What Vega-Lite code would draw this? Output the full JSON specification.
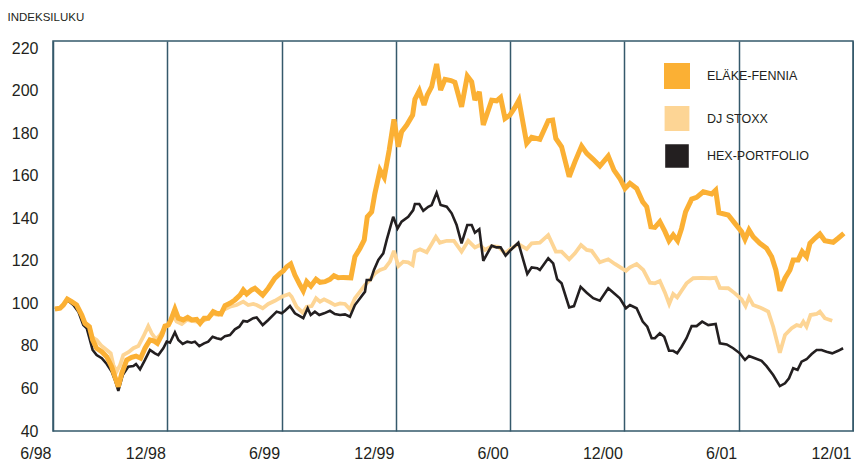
{
  "$schema": "https://vega.github.io/schema/vega-lite/v6.json",
  "width": 800,
  "height": 390,
  "autosize": {"type": "none"},
  "padding": {"left": 53, "top": 41, "right": 1, "bottom": 32},
  "background": "white",
  "config": {
    "font": "Liberation Sans",
    "view": {"stroke": "#35596b", "strokeWidth": 1.5}
  },
  "data": {
    "values": [
      {"sarja": "DJ Stoxx", "kuukausi": 0.10, "indeksi": 97.3},
      {"sarja": "DJ Stoxx", "kuukausi": 0.37, "indeksi": 97.7},
      {"sarja": "DJ Stoxx", "kuukausi": 0.54, "indeksi": 99.2},
      {"sarja": "DJ Stoxx", "kuukausi": 0.75, "indeksi": 102.0},
      {"sarja": "DJ Stoxx", "kuukausi": 0.98, "indeksi": 100.8},
      {"sarja": "DJ Stoxx", "kuukausi": 1.24, "indeksi": 99.2},
      {"sarja": "DJ Stoxx", "kuukausi": 1.51, "indeksi": 94.5},
      {"sarja": "DJ Stoxx", "kuukausi": 1.68, "indeksi": 90.6},
      {"sarja": "DJ Stoxx", "kuukausi": 1.91, "indeksi": 89.0},
      {"sarja": "DJ Stoxx", "kuukausi": 2.03, "indeksi": 84.3},
      {"sarja": "DJ Stoxx", "kuukausi": 2.29, "indeksi": 82.8},
      {"sarja": "DJ Stoxx", "kuukausi": 2.56, "indeksi": 79.9},
      {"sarja": "DJ Stoxx", "kuukausi": 2.82, "indeksi": 78.1},
      {"sarja": "DJ Stoxx", "kuukausi": 3.03, "indeksi": 76.5},
      {"sarja": "DJ Stoxx", "kuukausi": 3.17, "indeksi": 71.0},
      {"sarja": "DJ Stoxx", "kuukausi": 3.34, "indeksi": 67.9},
      {"sarja": "DJ Stoxx", "kuukausi": 3.52, "indeksi": 71.0},
      {"sarja": "DJ Stoxx", "kuukausi": 3.69, "indeksi": 75.7},
      {"sarja": "DJ Stoxx", "kuukausi": 3.96, "indeksi": 77.0},
      {"sarja": "DJ Stoxx", "kuukausi": 4.22, "indeksi": 78.9},
      {"sarja": "DJ Stoxx", "kuukausi": 4.48, "indeksi": 79.9},
      {"sarja": "DJ Stoxx", "kuukausi": 4.74, "indeksi": 84.3},
      {"sarja": "DJ Stoxx", "kuukausi": 5.00, "indeksi": 89.3},
      {"sarja": "DJ Stoxx", "kuukausi": 5.18, "indeksi": 85.9},
      {"sarja": "DJ Stoxx", "kuukausi": 5.41, "indeksi": 83.1},
      {"sarja": "DJ Stoxx", "kuukausi": 5.62, "indeksi": 85.1},
      {"sarja": "DJ Stoxx", "kuukausi": 5.88, "indeksi": 88.7},
      {"sarja": "DJ Stoxx", "kuukausi": 6.10, "indeksi": 89.8},
      {"sarja": "DJ Stoxx", "kuukausi": 6.28, "indeksi": 94.5},
      {"sarja": "DJ Stoxx", "kuukausi": 6.49, "indeksi": 91.4},
      {"sarja": "DJ Stoxx", "kuukausi": 6.76, "indeksi": 90.3},
      {"sarja": "DJ Stoxx", "kuukausi": 7.02, "indeksi": 92.2},
      {"sarja": "DJ Stoxx", "kuukausi": 7.28, "indeksi": 91.7},
      {"sarja": "DJ Stoxx", "kuukausi": 7.54, "indeksi": 91.4},
      {"sarja": "DJ Stoxx", "kuukausi": 7.81, "indeksi": 91.4},
      {"sarja": "DJ Stoxx", "kuukausi": 8.07, "indeksi": 92.6},
      {"sarja": "DJ Stoxx", "kuukausi": 8.41, "indeksi": 95.0},
      {"sarja": "DJ Stoxx", "kuukausi": 8.68, "indeksi": 94.5},
      {"sarja": "DJ Stoxx", "kuukausi": 8.94, "indeksi": 96.9},
      {"sarja": "DJ Stoxx", "kuukausi": 9.29, "indeksi": 98.4},
      {"sarja": "DJ Stoxx", "kuukausi": 9.64, "indeksi": 99.2},
      {"sarja": "DJ Stoxx", "kuukausi": 9.99, "indeksi": 100.8},
      {"sarja": "DJ Stoxx", "kuukausi": 10.25, "indeksi": 99.2},
      {"sarja": "DJ Stoxx", "kuukausi": 10.51, "indeksi": 99.7},
      {"sarja": "DJ Stoxx", "kuukausi": 10.69, "indeksi": 99.2},
      {"sarja": "DJ Stoxx", "kuukausi": 11.01, "indeksi": 97.7},
      {"sarja": "DJ Stoxx", "kuukausi": 11.30, "indeksi": 99.7},
      {"sarja": "DJ Stoxx", "kuukausi": 11.65, "indeksi": 101.2},
      {"sarja": "DJ Stoxx", "kuukausi": 12.01, "indeksi": 103.1},
      {"sarja": "DJ Stoxx", "kuukausi": 12.40, "indeksi": 104.4},
      {"sarja": "DJ Stoxx", "kuukausi": 12.53, "indeksi": 103.1},
      {"sarja": "DJ Stoxx", "kuukausi": 12.79, "indeksi": 98.4},
      {"sarja": "DJ Stoxx", "kuukausi": 13.11, "indeksi": 95.6},
      {"sarja": "DJ Stoxx", "kuukausi": 13.32, "indeksi": 98.4},
      {"sarja": "DJ Stoxx", "kuukausi": 13.58, "indeksi": 98.7},
      {"sarja": "DJ Stoxx", "kuukausi": 13.81, "indeksi": 102.4},
      {"sarja": "DJ Stoxx", "kuukausi": 14.02, "indeksi": 100.8},
      {"sarja": "DJ Stoxx", "kuukausi": 14.23, "indeksi": 101.9},
      {"sarja": "DJ Stoxx", "kuukausi": 14.54, "indeksi": 100.5},
      {"sarja": "DJ Stoxx", "kuukausi": 14.80, "indeksi": 99.2},
      {"sarja": "DJ Stoxx", "kuukausi": 15.07, "indeksi": 100.0},
      {"sarja": "DJ Stoxx", "kuukausi": 15.33, "indeksi": 99.7},
      {"sarja": "DJ Stoxx", "kuukausi": 15.59, "indeksi": 97.2},
      {"sarja": "DJ Stoxx", "kuukausi": 15.85, "indeksi": 102.4},
      {"sarja": "DJ Stoxx", "kuukausi": 16.12, "indeksi": 105.5},
      {"sarja": "DJ Stoxx", "kuukausi": 16.38, "indeksi": 108.6},
      {"sarja": "DJ Stoxx", "kuukausi": 16.64, "indeksi": 111.0},
      {"sarja": "DJ Stoxx", "kuukausi": 16.90, "indeksi": 114.1},
      {"sarja": "DJ Stoxx", "kuukausi": 17.17, "indeksi": 115.7},
      {"sarja": "DJ Stoxx", "kuukausi": 17.43, "indeksi": 116.5},
      {"sarja": "DJ Stoxx", "kuukausi": 17.69, "indeksi": 119.6},
      {"sarja": "DJ Stoxx", "kuukausi": 17.90, "indeksi": 124.7},
      {"sarja": "DJ Stoxx", "kuukausi": 18.13, "indeksi": 117.5},
      {"sarja": "DJ Stoxx", "kuukausi": 18.39, "indeksi": 119.6},
      {"sarja": "DJ Stoxx", "kuukausi": 18.65, "indeksi": 119.3},
      {"sarja": "DJ Stoxx", "kuukausi": 18.88, "indeksi": 118.0},
      {"sarja": "DJ Stoxx", "kuukausi": 19.00, "indeksi": 124.3},
      {"sarja": "DJ Stoxx", "kuukausi": 19.27, "indeksi": 125.4},
      {"sarja": "DJ Stoxx", "kuukausi": 19.62, "indeksi": 124.0},
      {"sarja": "DJ Stoxx", "kuukausi": 19.88, "indeksi": 127.9},
      {"sarja": "DJ Stoxx", "kuukausi": 20.10, "indeksi": 131.3},
      {"sarja": "DJ Stoxx", "kuukausi": 20.31, "indeksi": 128.5},
      {"sarja": "DJ Stoxx", "kuukausi": 20.67, "indeksi": 129.4},
      {"sarja": "DJ Stoxx", "kuukausi": 21.05, "indeksi": 129.4},
      {"sarja": "DJ Stoxx", "kuukausi": 21.45, "indeksi": 124.3},
      {"sarja": "DJ Stoxx", "kuukausi": 21.80, "indeksi": 129.4},
      {"sarja": "DJ Stoxx", "kuukausi": 22.15, "indeksi": 126.3},
      {"sarja": "DJ Stoxx", "kuukausi": 22.41, "indeksi": 127.4},
      {"sarja": "DJ Stoxx", "kuukausi": 22.68, "indeksi": 125.1},
      {"sarja": "DJ Stoxx", "kuukausi": 23.03, "indeksi": 126.9},
      {"sarja": "DJ Stoxx", "kuukausi": 23.38, "indeksi": 126.6},
      {"sarja": "DJ Stoxx", "kuukausi": 23.73, "indeksi": 123.5},
      {"sarja": "DJ Stoxx", "kuukausi": 24.08, "indeksi": 125.9},
      {"sarja": "DJ Stoxx", "kuukausi": 24.43, "indeksi": 127.9},
      {"sarja": "DJ Stoxx", "kuukausi": 24.87, "indeksi": 125.5},
      {"sarja": "DJ Stoxx", "kuukausi": 25.13, "indeksi": 128.2},
      {"sarja": "DJ Stoxx", "kuukausi": 25.56, "indeksi": 128.5},
      {"sarja": "DJ Stoxx", "kuukausi": 26.00, "indeksi": 132.1},
      {"sarja": "DJ Stoxx", "kuukausi": 26.40, "indeksi": 124.3},
      {"sarja": "DJ Stoxx", "kuukausi": 26.70, "indeksi": 124.3},
      {"sarja": "DJ Stoxx", "kuukausi": 27.10, "indeksi": 120.7},
      {"sarja": "DJ Stoxx", "kuukausi": 27.40, "indeksi": 123.5},
      {"sarja": "DJ Stoxx", "kuukausi": 27.72, "indeksi": 127.4},
      {"sarja": "DJ Stoxx", "kuukausi": 28.02, "indeksi": 125.1},
      {"sarja": "DJ Stoxx", "kuukausi": 28.28, "indeksi": 124.7},
      {"sarja": "DJ Stoxx", "kuukausi": 28.71, "indeksi": 119.3},
      {"sarja": "DJ Stoxx", "kuukausi": 29.15, "indeksi": 120.7},
      {"sarja": "DJ Stoxx", "kuukausi": 29.50, "indeksi": 118.5},
      {"sarja": "DJ Stoxx", "kuukausi": 30.08, "indeksi": 115.3},
      {"sarja": "DJ Stoxx", "kuukausi": 30.29, "indeksi": 116.9},
      {"sarja": "DJ Stoxx", "kuukausi": 30.64, "indeksi": 118.5},
      {"sarja": "DJ Stoxx", "kuukausi": 30.99, "indeksi": 115.7},
      {"sarja": "DJ Stoxx", "kuukausi": 31.34, "indeksi": 109.7},
      {"sarja": "DJ Stoxx", "kuukausi": 31.60, "indeksi": 109.4},
      {"sarja": "DJ Stoxx", "kuukausi": 31.86, "indeksi": 110.5},
      {"sarja": "DJ Stoxx", "kuukausi": 32.13, "indeksi": 105.0},
      {"sarja": "DJ Stoxx", "kuukausi": 32.35, "indeksi": 99.7},
      {"sarja": "DJ Stoxx", "kuukausi": 32.56, "indeksi": 104.4},
      {"sarja": "DJ Stoxx", "kuukausi": 32.77, "indeksi": 102.8},
      {"sarja": "DJ Stoxx", "kuukausi": 33.00, "indeksi": 105.9},
      {"sarja": "DJ Stoxx", "kuukausi": 33.26, "indeksi": 109.4},
      {"sarja": "DJ Stoxx", "kuukausi": 33.61, "indeksi": 111.8},
      {"sarja": "DJ Stoxx", "kuukausi": 34.05, "indeksi": 112.0},
      {"sarja": "DJ Stoxx", "kuukausi": 34.49, "indeksi": 111.8},
      {"sarja": "DJ Stoxx", "kuukausi": 34.79, "indeksi": 112.0},
      {"sarja": "DJ Stoxx", "kuukausi": 35.01, "indeksi": 107.3},
      {"sarja": "DJ Stoxx", "kuukausi": 35.45, "indeksi": 107.1},
      {"sarja": "DJ Stoxx", "kuukausi": 35.80, "indeksi": 104.7},
      {"sarja": "DJ Stoxx", "kuukausi": 36.15, "indeksi": 101.9},
      {"sarja": "DJ Stoxx", "kuukausi": 36.36, "indeksi": 98.7},
      {"sarja": "DJ Stoxx", "kuukausi": 36.54, "indeksi": 102.8},
      {"sarja": "DJ Stoxx", "kuukausi": 36.76, "indeksi": 99.2},
      {"sarja": "DJ Stoxx", "kuukausi": 37.11, "indeksi": 98.1},
      {"sarja": "DJ Stoxx", "kuukausi": 37.55, "indeksi": 96.1},
      {"sarja": "DJ Stoxx", "kuukausi": 37.81, "indeksi": 89.0},
      {"sarja": "DJ Stoxx", "kuukausi": 38.16, "indeksi": 76.8},
      {"sarja": "DJ Stoxx", "kuukausi": 38.43, "indeksi": 85.1},
      {"sarja": "DJ Stoxx", "kuukausi": 38.78, "indeksi": 88.3},
      {"sarja": "DJ Stoxx", "kuukausi": 39.04, "indeksi": 89.8},
      {"sarja": "DJ Stoxx", "kuukausi": 39.25, "indeksi": 89.3},
      {"sarja": "DJ Stoxx", "kuukausi": 39.39, "indeksi": 91.4},
      {"sarja": "DJ Stoxx", "kuukausi": 39.56, "indeksi": 89.0},
      {"sarja": "DJ Stoxx", "kuukausi": 39.77, "indeksi": 94.5},
      {"sarja": "DJ Stoxx", "kuukausi": 40.09, "indeksi": 95.0},
      {"sarja": "DJ Stoxx", "kuukausi": 40.26, "indeksi": 96.1},
      {"sarja": "DJ Stoxx", "kuukausi": 40.52, "indeksi": 93.0},
      {"sarja": "DJ Stoxx", "kuukausi": 40.91, "indeksi": 91.8},

      {"sarja": "HEX-Portfolio", "kuukausi": 0.10, "indeksi": 97.3},
      {"sarja": "HEX-Portfolio", "kuukausi": 0.37, "indeksi": 97.7},
      {"sarja": "HEX-Portfolio", "kuukausi": 0.54, "indeksi": 99.2},
      {"sarja": "HEX-Portfolio", "kuukausi": 0.75, "indeksi": 101.6},
      {"sarja": "HEX-Portfolio", "kuukausi": 1.07, "indeksi": 99.2},
      {"sarja": "HEX-Portfolio", "kuukausi": 1.33, "indeksi": 96.1},
      {"sarja": "HEX-Portfolio", "kuukausi": 1.59, "indeksi": 89.8},
      {"sarja": "HEX-Portfolio", "kuukausi": 1.77, "indeksi": 88.3},
      {"sarja": "HEX-Portfolio", "kuukausi": 2.08, "indeksi": 78.1},
      {"sarja": "HEX-Portfolio", "kuukausi": 2.29, "indeksi": 75.7},
      {"sarja": "HEX-Portfolio", "kuukausi": 2.56, "indeksi": 74.2},
      {"sarja": "HEX-Portfolio", "kuukausi": 2.82, "indeksi": 71.5},
      {"sarja": "HEX-Portfolio", "kuukausi": 3.08, "indeksi": 67.9},
      {"sarja": "HEX-Portfolio", "kuukausi": 3.25, "indeksi": 64.0},
      {"sarja": "HEX-Portfolio", "kuukausi": 3.43, "indeksi": 58.9},
      {"sarja": "HEX-Portfolio", "kuukausi": 3.66, "indeksi": 66.3},
      {"sarja": "HEX-Portfolio", "kuukausi": 3.95, "indeksi": 70.2},
      {"sarja": "HEX-Portfolio", "kuukausi": 4.22, "indeksi": 70.5},
      {"sarja": "HEX-Portfolio", "kuukausi": 4.36, "indeksi": 71.5},
      {"sarja": "HEX-Portfolio", "kuukausi": 4.57, "indeksi": 69.0},
      {"sarja": "HEX-Portfolio", "kuukausi": 4.83, "indeksi": 73.4},
      {"sarja": "HEX-Portfolio", "kuukausi": 5.09, "indeksi": 78.1},
      {"sarja": "HEX-Portfolio", "kuukausi": 5.35, "indeksi": 76.5},
      {"sarja": "HEX-Portfolio", "kuukausi": 5.53, "indeksi": 75.7},
      {"sarja": "HEX-Portfolio", "kuukausi": 5.79, "indeksi": 78.9},
      {"sarja": "HEX-Portfolio", "kuukausi": 5.97, "indeksi": 82.0},
      {"sarja": "HEX-Portfolio", "kuukausi": 6.14, "indeksi": 81.5},
      {"sarja": "HEX-Portfolio", "kuukausi": 6.40, "indeksi": 86.4},
      {"sarja": "HEX-Portfolio", "kuukausi": 6.58, "indeksi": 82.8},
      {"sarja": "HEX-Portfolio", "kuukausi": 6.81, "indeksi": 80.9},
      {"sarja": "HEX-Portfolio", "kuukausi": 7.05, "indeksi": 82.0},
      {"sarja": "HEX-Portfolio", "kuukausi": 7.28, "indeksi": 81.5},
      {"sarja": "HEX-Portfolio", "kuukausi": 7.45, "indeksi": 82.0},
      {"sarja": "HEX-Portfolio", "kuukausi": 7.68, "indeksi": 79.9},
      {"sarja": "HEX-Portfolio", "kuukausi": 7.93, "indeksi": 81.2},
      {"sarja": "HEX-Portfolio", "kuukausi": 8.15, "indeksi": 82.0},
      {"sarja": "HEX-Portfolio", "kuukausi": 8.38, "indeksi": 84.3},
      {"sarja": "HEX-Portfolio", "kuukausi": 8.59, "indeksi": 83.6},
      {"sarja": "HEX-Portfolio", "kuukausi": 8.82, "indeksi": 83.1},
      {"sarja": "HEX-Portfolio", "kuukausi": 9.03, "indeksi": 84.6},
      {"sarja": "HEX-Portfolio", "kuukausi": 9.29, "indeksi": 85.1},
      {"sarja": "HEX-Portfolio", "kuukausi": 9.55, "indeksi": 87.8},
      {"sarja": "HEX-Portfolio", "kuukausi": 9.78, "indeksi": 89.0},
      {"sarja": "HEX-Portfolio", "kuukausi": 9.99, "indeksi": 91.7},
      {"sarja": "HEX-Portfolio", "kuukausi": 10.20, "indeksi": 91.4},
      {"sarja": "HEX-Portfolio", "kuukausi": 10.51, "indeksi": 93.0},
      {"sarja": "HEX-Portfolio", "kuukausi": 10.69, "indeksi": 93.4},
      {"sarja": "HEX-Portfolio", "kuukausi": 11.01, "indeksi": 89.8},
      {"sarja": "HEX-Portfolio", "kuukausi": 11.30, "indeksi": 92.2},
      {"sarja": "HEX-Portfolio", "kuukausi": 11.74, "indeksi": 96.1},
      {"sarja": "HEX-Portfolio", "kuukausi": 12.01, "indeksi": 95.3},
      {"sarja": "HEX-Portfolio", "kuukausi": 12.18, "indeksi": 96.5},
      {"sarja": "HEX-Portfolio", "kuukausi": 12.44, "indeksi": 98.7},
      {"sarja": "HEX-Portfolio", "kuukausi": 12.70, "indeksi": 95.3},
      {"sarja": "HEX-Portfolio", "kuukausi": 13.14, "indeksi": 93.0},
      {"sarja": "HEX-Portfolio", "kuukausi": 13.37, "indeksi": 97.7},
      {"sarja": "HEX-Portfolio", "kuukausi": 13.53, "indeksi": 94.5},
      {"sarja": "HEX-Portfolio", "kuukausi": 13.75, "indeksi": 96.1},
      {"sarja": "HEX-Portfolio", "kuukausi": 13.98, "indeksi": 94.5},
      {"sarja": "HEX-Portfolio", "kuukausi": 14.23, "indeksi": 95.3},
      {"sarja": "HEX-Portfolio", "kuukausi": 14.54, "indeksi": 96.5},
      {"sarja": "HEX-Portfolio", "kuukausi": 14.80, "indeksi": 95.0},
      {"sarja": "HEX-Portfolio", "kuukausi": 15.07, "indeksi": 94.5},
      {"sarja": "HEX-Portfolio", "kuukausi": 15.33, "indeksi": 94.8},
      {"sarja": "HEX-Portfolio", "kuukausi": 15.59, "indeksi": 93.7},
      {"sarja": "HEX-Portfolio", "kuukausi": 15.85, "indeksi": 99.2},
      {"sarja": "HEX-Portfolio", "kuukausi": 16.12, "indeksi": 102.4},
      {"sarja": "HEX-Portfolio", "kuukausi": 16.38, "indeksi": 105.5},
      {"sarja": "HEX-Portfolio", "kuukausi": 16.47, "indeksi": 111.0},
      {"sarja": "HEX-Portfolio", "kuukausi": 16.68, "indeksi": 111.0},
      {"sarja": "HEX-Portfolio", "kuukausi": 16.85, "indeksi": 115.7},
      {"sarja": "HEX-Portfolio", "kuukausi": 17.08, "indeksi": 120.4},
      {"sarja": "HEX-Portfolio", "kuukausi": 17.34, "indeksi": 123.5},
      {"sarja": "HEX-Portfolio", "kuukausi": 17.52, "indeksi": 129.8},
      {"sarja": "HEX-Portfolio", "kuukausi": 17.69, "indeksi": 135.2},
      {"sarja": "HEX-Portfolio", "kuukausi": 17.86, "indeksi": 140.7},
      {"sarja": "HEX-Portfolio", "kuukausi": 18.09, "indeksi": 135.2},
      {"sarja": "HEX-Portfolio", "kuukausi": 18.30, "indeksi": 138.4},
      {"sarja": "HEX-Portfolio", "kuukausi": 18.65, "indeksi": 140.7},
      {"sarja": "HEX-Portfolio", "kuukausi": 18.91, "indeksi": 143.8},
      {"sarja": "HEX-Portfolio", "kuukausi": 19.00, "indeksi": 146.7},
      {"sarja": "HEX-Portfolio", "kuukausi": 19.23, "indeksi": 146.7},
      {"sarja": "HEX-Portfolio", "kuukausi": 19.44, "indeksi": 143.5},
      {"sarja": "HEX-Portfolio", "kuukausi": 19.70, "indeksi": 145.4},
      {"sarja": "HEX-Portfolio", "kuukausi": 19.88, "indeksi": 146.2},
      {"sarja": "HEX-Portfolio", "kuukausi": 20.14, "indeksi": 152.0},
      {"sarja": "HEX-Portfolio", "kuukausi": 20.35, "indeksi": 146.2},
      {"sarja": "HEX-Portfolio", "kuukausi": 20.67, "indeksi": 145.4},
      {"sarja": "HEX-Portfolio", "kuukausi": 20.93, "indeksi": 142.3},
      {"sarja": "HEX-Portfolio", "kuukausi": 21.19, "indeksi": 136.8},
      {"sarja": "HEX-Portfolio", "kuukausi": 21.45, "indeksi": 128.2},
      {"sarja": "HEX-Portfolio", "kuukausi": 21.75, "indeksi": 136.8},
      {"sarja": "HEX-Portfolio", "kuukausi": 21.98, "indeksi": 136.8},
      {"sarja": "HEX-Portfolio", "kuukausi": 22.15, "indeksi": 133.2},
      {"sarja": "HEX-Portfolio", "kuukausi": 22.38, "indeksi": 134.8},
      {"sarja": "HEX-Portfolio", "kuukausi": 22.59, "indeksi": 120.0},
      {"sarja": "HEX-Portfolio", "kuukausi": 23.03, "indeksi": 127.1},
      {"sarja": "HEX-Portfolio", "kuukausi": 23.29, "indeksi": 126.3},
      {"sarja": "HEX-Portfolio", "kuukausi": 23.50, "indeksi": 126.3},
      {"sarja": "HEX-Portfolio", "kuukausi": 23.76, "indeksi": 122.4},
      {"sarja": "HEX-Portfolio", "kuukausi": 24.03, "indeksi": 125.1},
      {"sarja": "HEX-Portfolio", "kuukausi": 24.43, "indeksi": 128.5},
      {"sarja": "HEX-Portfolio", "kuukausi": 24.90, "indeksi": 113.8},
      {"sarja": "HEX-Portfolio", "kuukausi": 25.13, "indeksi": 116.9},
      {"sarja": "HEX-Portfolio", "kuukausi": 25.42, "indeksi": 116.5},
      {"sarja": "HEX-Portfolio", "kuukausi": 25.56, "indeksi": 115.7},
      {"sarja": "HEX-Portfolio", "kuukausi": 26.00, "indeksi": 121.2},
      {"sarja": "HEX-Portfolio", "kuukausi": 26.26, "indeksi": 118.8},
      {"sarja": "HEX-Portfolio", "kuukausi": 26.47, "indeksi": 111.3},
      {"sarja": "HEX-Portfolio", "kuukausi": 26.70, "indeksi": 109.4},
      {"sarja": "HEX-Portfolio", "kuukausi": 27.10, "indeksi": 98.1},
      {"sarja": "HEX-Portfolio", "kuukausi": 27.35, "indeksi": 98.7},
      {"sarja": "HEX-Portfolio", "kuukausi": 27.70, "indeksi": 107.8},
      {"sarja": "HEX-Portfolio", "kuukausi": 28.02, "indeksi": 105.0},
      {"sarja": "HEX-Portfolio", "kuukausi": 28.36, "indeksi": 102.4},
      {"sarja": "HEX-Portfolio", "kuukausi": 28.71, "indeksi": 101.2},
      {"sarja": "HEX-Portfolio", "kuukausi": 29.15, "indeksi": 107.1},
      {"sarja": "HEX-Portfolio", "kuukausi": 29.50, "indeksi": 104.4},
      {"sarja": "HEX-Portfolio", "kuukausi": 29.76, "indeksi": 102.4},
      {"sarja": "HEX-Portfolio", "kuukausi": 30.08, "indeksi": 97.7},
      {"sarja": "HEX-Portfolio", "kuukausi": 30.29, "indeksi": 99.2},
      {"sarja": "HEX-Portfolio", "kuukausi": 30.64, "indeksi": 97.7},
      {"sarja": "HEX-Portfolio", "kuukausi": 30.96, "indeksi": 91.4},
      {"sarja": "HEX-Portfolio", "kuukausi": 31.20, "indeksi": 89.0},
      {"sarja": "HEX-Portfolio", "kuukausi": 31.43, "indeksi": 83.6},
      {"sarja": "HEX-Portfolio", "kuukausi": 31.60, "indeksi": 83.6},
      {"sarja": "HEX-Portfolio", "kuukausi": 31.86, "indeksi": 85.9},
      {"sarja": "HEX-Portfolio", "kuukausi": 32.09, "indeksi": 84.3},
      {"sarja": "HEX-Portfolio", "kuukausi": 32.34, "indeksi": 77.7},
      {"sarja": "HEX-Portfolio", "kuukausi": 32.56, "indeksi": 77.7},
      {"sarja": "HEX-Portfolio", "kuukausi": 32.77, "indeksi": 76.5},
      {"sarja": "HEX-Portfolio", "kuukausi": 33.00, "indeksi": 79.6},
      {"sarja": "HEX-Portfolio", "kuukausi": 33.26, "indeksi": 83.6},
      {"sarja": "HEX-Portfolio", "kuukausi": 33.53, "indeksi": 89.3},
      {"sarja": "HEX-Portfolio", "kuukausi": 33.79, "indeksi": 89.3},
      {"sarja": "HEX-Portfolio", "kuukausi": 34.08, "indeksi": 91.4},
      {"sarja": "HEX-Portfolio", "kuukausi": 34.40, "indeksi": 89.8},
      {"sarja": "HEX-Portfolio", "kuukausi": 34.79, "indeksi": 90.3},
      {"sarja": "HEX-Portfolio", "kuukausi": 35.01, "indeksi": 81.2},
      {"sarja": "HEX-Portfolio", "kuukausi": 35.37, "indeksi": 80.7},
      {"sarja": "HEX-Portfolio", "kuukausi": 35.71, "indeksi": 78.9},
      {"sarja": "HEX-Portfolio", "kuukausi": 36.06, "indeksi": 76.5},
      {"sarja": "HEX-Portfolio", "kuukausi": 36.33, "indeksi": 73.4},
      {"sarja": "HEX-Portfolio", "kuukausi": 36.54, "indeksi": 75.2},
      {"sarja": "HEX-Portfolio", "kuukausi": 36.85, "indeksi": 74.2},
      {"sarja": "HEX-Portfolio", "kuukausi": 37.20, "indeksi": 73.0},
      {"sarja": "HEX-Portfolio", "kuukausi": 37.46, "indeksi": 70.5},
      {"sarja": "HEX-Portfolio", "kuukausi": 37.81, "indeksi": 66.3},
      {"sarja": "HEX-Portfolio", "kuukausi": 38.16, "indeksi": 61.1},
      {"sarja": "HEX-Portfolio", "kuukausi": 38.43, "indeksi": 62.4},
      {"sarja": "HEX-Portfolio", "kuukausi": 38.64, "indeksi": 64.8},
      {"sarja": "HEX-Portfolio", "kuukausi": 38.86, "indeksi": 69.5},
      {"sarja": "HEX-Portfolio", "kuukausi": 39.09, "indeksi": 68.7},
      {"sarja": "HEX-Portfolio", "kuukausi": 39.30, "indeksi": 72.6},
      {"sarja": "HEX-Portfolio", "kuukausi": 39.56, "indeksi": 73.7},
      {"sarja": "HEX-Portfolio", "kuukausi": 39.83, "indeksi": 76.2},
      {"sarja": "HEX-Portfolio", "kuukausi": 40.09, "indeksi": 78.1},
      {"sarja": "HEX-Portfolio", "kuukausi": 40.35, "indeksi": 78.1},
      {"sarja": "HEX-Portfolio", "kuukausi": 40.61, "indeksi": 77.3},
      {"sarja": "HEX-Portfolio", "kuukausi": 40.91, "indeksi": 76.5},
      {"sarja": "HEX-Portfolio", "kuukausi": 41.22, "indeksi": 77.7},
      {"sarja": "HEX-Portfolio", "kuukausi": 41.48, "indeksi": 78.9},

      {"sarja": "Eläke-Fennia", "kuukausi": 0.10, "indeksi": 97.3},
      {"sarja": "Eläke-Fennia", "kuukausi": 0.37, "indeksi": 97.7},
      {"sarja": "Eläke-Fennia", "kuukausi": 0.54, "indeksi": 99.2},
      {"sarja": "Eläke-Fennia", "kuukausi": 0.75, "indeksi": 102.0},
      {"sarja": "Eläke-Fennia", "kuukausi": 0.98, "indeksi": 100.8},
      {"sarja": "Eläke-Fennia", "kuukausi": 1.24, "indeksi": 99.2},
      {"sarja": "Eläke-Fennia", "kuukausi": 1.51, "indeksi": 94.5},
      {"sarja": "Eläke-Fennia", "kuukausi": 1.68, "indeksi": 90.6},
      {"sarja": "Eläke-Fennia", "kuukausi": 1.91, "indeksi": 89.0},
      {"sarja": "Eläke-Fennia", "kuukausi": 2.08, "indeksi": 82.8},
      {"sarja": "Eläke-Fennia", "kuukausi": 2.29, "indeksi": 78.9},
      {"sarja": "Eläke-Fennia", "kuukausi": 2.56, "indeksi": 77.3},
      {"sarja": "Eläke-Fennia", "kuukausi": 2.82, "indeksi": 74.9},
      {"sarja": "Eläke-Fennia", "kuukausi": 3.08, "indeksi": 70.2},
      {"sarja": "Eläke-Fennia", "kuukausi": 3.25, "indeksi": 65.5},
      {"sarja": "Eläke-Fennia", "kuukausi": 3.43, "indeksi": 60.8},
      {"sarja": "Eläke-Fennia", "kuukausi": 3.61, "indeksi": 67.1},
      {"sarja": "Eläke-Fennia", "kuukausi": 3.87, "indeksi": 73.4},
      {"sarja": "Eläke-Fennia", "kuukausi": 4.13, "indeksi": 74.6},
      {"sarja": "Eläke-Fennia", "kuukausi": 4.36, "indeksi": 75.2},
      {"sarja": "Eläke-Fennia", "kuukausi": 4.60, "indeksi": 74.2},
      {"sarja": "Eläke-Fennia", "kuukausi": 4.83, "indeksi": 78.9},
      {"sarja": "Eläke-Fennia", "kuukausi": 5.09, "indeksi": 82.8},
      {"sarja": "Eläke-Fennia", "kuukausi": 5.30, "indeksi": 82.3},
      {"sarja": "Eläke-Fennia", "kuukausi": 5.48, "indeksi": 81.2},
      {"sarja": "Eläke-Fennia", "kuukausi": 5.71, "indeksi": 85.1},
      {"sarja": "Eläke-Fennia", "kuukausi": 5.88, "indeksi": 89.3},
      {"sarja": "Eläke-Fennia", "kuukausi": 6.05, "indeksi": 89.8},
      {"sarja": "Eläke-Fennia", "kuukausi": 6.19, "indeksi": 92.2},
      {"sarja": "Eläke-Fennia", "kuukausi": 6.40, "indeksi": 97.3},
      {"sarja": "Eläke-Fennia", "kuukausi": 6.58, "indeksi": 93.0},
      {"sarja": "Eläke-Fennia", "kuukausi": 6.84, "indeksi": 92.2},
      {"sarja": "Eläke-Fennia", "kuukausi": 7.07, "indeksi": 93.4},
      {"sarja": "Eläke-Fennia", "kuukausi": 7.28, "indeksi": 92.2},
      {"sarja": "Eläke-Fennia", "kuukausi": 7.54, "indeksi": 92.5},
      {"sarja": "Eläke-Fennia", "kuukausi": 7.72, "indeksi": 90.6},
      {"sarja": "Eläke-Fennia", "kuukausi": 7.93, "indeksi": 93.0},
      {"sarja": "Eläke-Fennia", "kuukausi": 8.15, "indeksi": 93.0},
      {"sarja": "Eläke-Fennia", "kuukausi": 8.41, "indeksi": 96.1},
      {"sarja": "Eläke-Fennia", "kuukausi": 8.59, "indeksi": 95.3},
      {"sarja": "Eläke-Fennia", "kuukausi": 8.82, "indeksi": 95.0},
      {"sarja": "Eläke-Fennia", "kuukausi": 9.03, "indeksi": 98.9},
      {"sarja": "Eläke-Fennia", "kuukausi": 9.29, "indeksi": 100.0},
      {"sarja": "Eläke-Fennia", "kuukausi": 9.55, "indeksi": 101.6},
      {"sarja": "Eläke-Fennia", "kuukausi": 9.82, "indeksi": 103.9},
      {"sarja": "Eläke-Fennia", "kuukausi": 9.99, "indeksi": 106.3},
      {"sarja": "Eläke-Fennia", "kuukausi": 10.17, "indeksi": 104.4},
      {"sarja": "Eläke-Fennia", "kuukausi": 10.43, "indeksi": 106.3},
      {"sarja": "Eläke-Fennia", "kuukausi": 10.60, "indeksi": 107.1},
      {"sarja": "Eläke-Fennia", "kuukausi": 11.01, "indeksi": 103.9},
      {"sarja": "Eläke-Fennia", "kuukausi": 11.30, "indeksi": 107.1},
      {"sarja": "Eläke-Fennia", "kuukausi": 11.65, "indeksi": 111.8},
      {"sarja": "Eläke-Fennia", "kuukausi": 11.92, "indeksi": 114.1},
      {"sarja": "Eläke-Fennia", "kuukausi": 12.09, "indeksi": 115.2},
      {"sarja": "Eläke-Fennia", "kuukausi": 12.27, "indeksi": 117.2},
      {"sarja": "Eläke-Fennia", "kuukausi": 12.48, "indeksi": 118.5},
      {"sarja": "Eläke-Fennia", "kuukausi": 12.70, "indeksi": 113.3},
      {"sarja": "Eläke-Fennia", "kuukausi": 12.97, "indeksi": 108.6},
      {"sarja": "Eläke-Fennia", "kuukausi": 13.14, "indeksi": 105.9},
      {"sarja": "Eläke-Fennia", "kuukausi": 13.32, "indeksi": 110.2},
      {"sarja": "Eläke-Fennia", "kuukausi": 13.54, "indeksi": 108.1},
      {"sarja": "Eläke-Fennia", "kuukausi": 13.81, "indeksi": 111.3},
      {"sarja": "Eläke-Fennia", "kuukausi": 14.02, "indeksi": 109.9},
      {"sarja": "Eläke-Fennia", "kuukausi": 14.28, "indeksi": 110.2},
      {"sarja": "Eläke-Fennia", "kuukausi": 14.54, "indeksi": 111.3},
      {"sarja": "Eläke-Fennia", "kuukausi": 14.75, "indeksi": 113.0},
      {"sarja": "Eläke-Fennia", "kuukausi": 14.98, "indeksi": 112.0},
      {"sarja": "Eläke-Fennia", "kuukausi": 15.24, "indeksi": 112.2},
      {"sarja": "Eläke-Fennia", "kuukausi": 15.64, "indeksi": 112.0},
      {"sarja": "Eläke-Fennia", "kuukausi": 15.85, "indeksi": 121.9},
      {"sarja": "Eläke-Fennia", "kuukausi": 16.12, "indeksi": 125.9},
      {"sarja": "Eläke-Fennia", "kuukausi": 16.34, "indeksi": 129.8},
      {"sarja": "Eläke-Fennia", "kuukausi": 16.50, "indeksi": 140.7},
      {"sarja": "Eläke-Fennia", "kuukausi": 16.73, "indeksi": 143.0},
      {"sarja": "Eläke-Fennia", "kuukausi": 16.90, "indeksi": 151.7},
      {"sarja": "Eläke-Fennia", "kuukausi": 17.17, "indeksi": 162.6},
      {"sarja": "Eläke-Fennia", "kuukausi": 17.39, "indeksi": 159.2},
      {"sarja": "Eläke-Fennia", "kuukausi": 17.65, "indeksi": 172.0},
      {"sarja": "Eläke-Fennia", "kuukausi": 17.90, "indeksi": 186.5},
      {"sarja": "Eläke-Fennia", "kuukausi": 18.13, "indeksi": 173.6},
      {"sarja": "Eläke-Fennia", "kuukausi": 18.30, "indeksi": 180.6},
      {"sarja": "Eläke-Fennia", "kuukausi": 18.57, "indeksi": 183.8},
      {"sarja": "Eläke-Fennia", "kuukausi": 18.88, "indeksi": 188.5},
      {"sarja": "Eläke-Fennia", "kuukausi": 19.00, "indeksi": 195.9},
      {"sarja": "Eläke-Fennia", "kuukausi": 19.23, "indeksi": 199.9},
      {"sarja": "Eläke-Fennia", "kuukausi": 19.48, "indeksi": 193.2},
      {"sarja": "Eläke-Fennia", "kuukausi": 19.65, "indeksi": 197.9},
      {"sarja": "Eläke-Fennia", "kuukausi": 19.88, "indeksi": 201.8},
      {"sarja": "Eläke-Fennia", "kuukausi": 20.14, "indeksi": 212.5},
      {"sarja": "Eläke-Fennia", "kuukausi": 20.35, "indeksi": 200.2},
      {"sarja": "Eläke-Fennia", "kuukausi": 20.58, "indeksi": 205.3},
      {"sarja": "Eläke-Fennia", "kuukausi": 20.89, "indeksi": 204.7},
      {"sarja": "Eläke-Fennia", "kuukausi": 21.10, "indeksi": 203.9},
      {"sarja": "Eläke-Fennia", "kuukausi": 21.45, "indeksi": 192.4},
      {"sarja": "Eläke-Fennia", "kuukausi": 21.75, "indeksi": 206.8},
      {"sarja": "Eläke-Fennia", "kuukausi": 21.98, "indeksi": 204.1},
      {"sarja": "Eläke-Fennia", "kuukausi": 22.15, "indeksi": 195.5},
      {"sarja": "Eläke-Fennia", "kuukausi": 22.38, "indeksi": 199.4},
      {"sarja": "Eläke-Fennia", "kuukausi": 22.59, "indeksi": 183.8},
      {"sarja": "Eläke-Fennia", "kuukausi": 23.03, "indeksi": 195.5},
      {"sarja": "Eläke-Fennia", "kuukausi": 23.29, "indeksi": 195.2},
      {"sarja": "Eläke-Fennia", "kuukausi": 23.50, "indeksi": 196.8},
      {"sarja": "Eläke-Fennia", "kuukausi": 23.73, "indeksi": 186.9},
      {"sarja": "Eläke-Fennia", "kuukausi": 23.99, "indeksi": 188.5},
      {"sarja": "Eläke-Fennia", "kuukausi": 24.25, "indeksi": 192.1},
      {"sarja": "Eläke-Fennia", "kuukausi": 24.46, "indeksi": 195.5},
      {"sarja": "Eläke-Fennia", "kuukausi": 24.87, "indeksi": 175.2},
      {"sarja": "Eläke-Fennia", "kuukausi": 25.13, "indeksi": 178.0},
      {"sarja": "Eläke-Fennia", "kuukausi": 25.56, "indeksi": 177.1},
      {"sarja": "Eläke-Fennia", "kuukausi": 26.00, "indeksi": 185.8},
      {"sarja": "Eläke-Fennia", "kuukausi": 26.23, "indeksi": 186.1},
      {"sarja": "Eläke-Fennia", "kuukausi": 26.40, "indeksi": 177.5},
      {"sarja": "Eläke-Fennia", "kuukausi": 26.70, "indeksi": 173.6},
      {"sarja": "Eläke-Fennia", "kuukausi": 27.10, "indeksi": 159.5},
      {"sarja": "Eläke-Fennia", "kuukausi": 27.40, "indeksi": 166.5},
      {"sarja": "Eläke-Fennia", "kuukausi": 27.75, "indeksi": 173.9},
      {"sarja": "Eläke-Fennia", "kuukausi": 28.02, "indeksi": 170.5},
      {"sarja": "Eläke-Fennia", "kuukausi": 28.36, "indeksi": 167.7},
      {"sarja": "Eläke-Fennia", "kuukausi": 28.71, "indeksi": 164.5},
      {"sarja": "Eläke-Fennia", "kuukausi": 29.15, "indeksi": 169.2},
      {"sarja": "Eläke-Fennia", "kuukausi": 29.45, "indeksi": 162.6},
      {"sarja": "Eläke-Fennia", "kuukausi": 29.76, "indeksi": 158.7},
      {"sarja": "Eläke-Fennia", "kuukausi": 30.03, "indeksi": 154.0},
      {"sarja": "Eläke-Fennia", "kuukausi": 30.29, "indeksi": 156.4},
      {"sarja": "Eläke-Fennia", "kuukausi": 30.64, "indeksi": 154.0},
      {"sarja": "Eläke-Fennia", "kuukausi": 30.96, "indeksi": 147.7},
      {"sarja": "Eläke-Fennia", "kuukausi": 31.17, "indeksi": 145.4},
      {"sarja": "Eläke-Fennia", "kuukausi": 31.39, "indeksi": 136.0},
      {"sarja": "Eläke-Fennia", "kuukausi": 31.60, "indeksi": 135.7},
      {"sarja": "Eläke-Fennia", "kuukausi": 31.86, "indeksi": 138.4},
      {"sarja": "Eläke-Fennia", "kuukausi": 32.13, "indeksi": 133.7},
      {"sarja": "Eläke-Fennia", "kuukausi": 32.34, "indeksi": 129.4},
      {"sarja": "Eläke-Fennia", "kuukausi": 32.56, "indeksi": 132.1},
      {"sarja": "Eläke-Fennia", "kuukausi": 32.79, "indeksi": 129.4},
      {"sarja": "Eläke-Fennia", "kuukausi": 33.00, "indeksi": 135.2},
      {"sarja": "Eläke-Fennia", "kuukausi": 33.21, "indeksi": 143.0},
      {"sarja": "Eläke-Fennia", "kuukausi": 33.53, "indeksi": 149.0},
      {"sarja": "Eläke-Fennia", "kuukausi": 33.79, "indeksi": 149.8},
      {"sarja": "Eläke-Fennia", "kuukausi": 34.14, "indeksi": 152.4},
      {"sarja": "Eläke-Fennia", "kuukausi": 34.58, "indeksi": 151.4},
      {"sarja": "Eläke-Fennia", "kuukausi": 34.79, "indeksi": 153.2},
      {"sarja": "Eläke-Fennia", "kuukausi": 34.96, "indeksi": 142.6},
      {"sarja": "Eläke-Fennia", "kuukausi": 35.45, "indeksi": 141.5},
      {"sarja": "Eläke-Fennia", "kuukausi": 35.80, "indeksi": 137.6},
      {"sarja": "Eläke-Fennia", "kuukausi": 36.15, "indeksi": 133.7},
      {"sarja": "Eläke-Fennia", "kuukausi": 36.33, "indeksi": 130.1},
      {"sarja": "Eläke-Fennia", "kuukausi": 36.54, "indeksi": 134.5},
      {"sarja": "Eläke-Fennia", "kuukausi": 36.76, "indeksi": 131.3},
      {"sarja": "Eläke-Fennia", "kuukausi": 37.11, "indeksi": 128.2},
      {"sarja": "Eläke-Fennia", "kuukausi": 37.46, "indeksi": 125.9},
      {"sarja": "Eläke-Fennia", "kuukausi": 37.73, "indeksi": 121.9},
      {"sarja": "Eläke-Fennia", "kuukausi": 37.95, "indeksi": 115.7},
      {"sarja": "Eläke-Fennia", "kuukausi": 38.16, "indeksi": 105.9},
      {"sarja": "Eläke-Fennia", "kuukausi": 38.43, "indeksi": 111.8},
      {"sarja": "Eläke-Fennia", "kuukausi": 38.69, "indeksi": 115.7},
      {"sarja": "Eläke-Fennia", "kuukausi": 38.86, "indeksi": 120.4},
      {"sarja": "Eläke-Fennia", "kuukausi": 39.12, "indeksi": 120.4},
      {"sarja": "Eläke-Fennia", "kuukausi": 39.33, "indeksi": 124.3},
      {"sarja": "Eläke-Fennia", "kuukausi": 39.56, "indeksi": 121.9},
      {"sarja": "Eläke-Fennia", "kuukausi": 39.74, "indeksi": 128.2},
      {"sarja": "Eläke-Fennia", "kuukausi": 40.00, "indeksi": 130.6},
      {"sarja": "Eläke-Fennia", "kuukausi": 40.26, "indeksi": 132.6},
      {"sarja": "Eläke-Fennia", "kuukausi": 40.52, "indeksi": 129.4},
      {"sarja": "Eläke-Fennia", "kuukausi": 40.96, "indeksi": 128.7},
      {"sarja": "Eläke-Fennia", "kuukausi": 41.22, "indeksi": 130.6},
      {"sarja": "Eläke-Fennia", "kuukausi": 41.52, "indeksi": 132.9}
    ]
  },
  "mark": {"type": "line", "strokeJoin": "miter", "strokeMiterLimit": 3},
  "encoding": {
    "x": {
      "field": "kuukausi",
      "type": "quantitative",
      "scale": {"domain": [0, 42], "nice": false, "zero": false},
      "axis": {
        "title": null,
        "values": [0, 6, 12, 18, 24, 30, 36, 42],
        "labelExpr": "(datum.value % 12 == 0 ? '6/' : '12/') + ((98 + floor(datum.value / 12)) % 100 < 10 ? '0' : '') + ((98 + floor(datum.value / 12)) % 100)",
        "labelAlign": "right",
        "labelOffset": -2,
        "labelPadding": 14,
        "labelFontSize": 16,
        "labelColor": "#231f20",
        "labelOverlap": false,
        "labelFlush": false,
        "labelBound": false,
        "domain": false,
        "ticks": false,
        "grid": true,
        "gridColor": "#35596b",
        "gridWidth": 1.5,
        "gridOpacity": 1
      }
    },
    "y": {
      "field": "indeksi",
      "type": "quantitative",
      "scale": {"domain": [40, 223.3], "nice": false, "zero": false},
      "axis": {
        "title": "INDEKSILUKU",
        "titleAngle": 0,
        "titleAlign": "left",
        "titleBaseline": "middle",
        "titleX": -46,
        "titleY": -24,
        "titleFontSize": 11.5,
        "titleFontWeight": "normal",
        "titleColor": "#231f20",
        "values": [40, 60, 80, 100, 120, 140, 160, 180, 200, 220],
        "labelFontSize": 16,
        "labelColor": "#231f20",
        "labelPadding": 15,
        "labelOverlap": false,
        "labelFlush": false,
        "domain": false,
        "ticks": false,
        "grid": false
      }
    },
    "color": {
      "field": "sarja",
      "type": "nominal",
      "scale": {
        "domain": ["Eläke-Fennia", "DJ Stoxx", "HEX-Portfolio"],
        "range": ["#fbb034", "#fdd595", "#231f20"]
      },
      "legend": {
        "title": null,
        "orient": "none",
        "legendX": 611,
        "legendY": 22,
        "padding": 0,
        "symbolType": "square",
        "symbolSize": 441,
        "symbolStrokeWidth": 0,
        "labelExpr": "upper(datum.label)",
        "labelFontSize": 12.5,
        "labelColor": "#231f20",
        "labelOffset": 17,
        "rowPadding": 3,
        "encode": {
          "symbols": {
            "update": {
              "fill": {"scale": "color", "field": "value"},
              "fillOpacity": {"value": 1}
            }
          }
        }
      }
    },
    "strokeWidth": {
      "field": "sarja",
      "type": "nominal",
      "scale": {
        "domain": ["Eläke-Fennia", "DJ Stoxx", "HEX-Portfolio"],
        "range": [5, 2.6, 2.6]
      },
      "legend": null
    }
  }
}
